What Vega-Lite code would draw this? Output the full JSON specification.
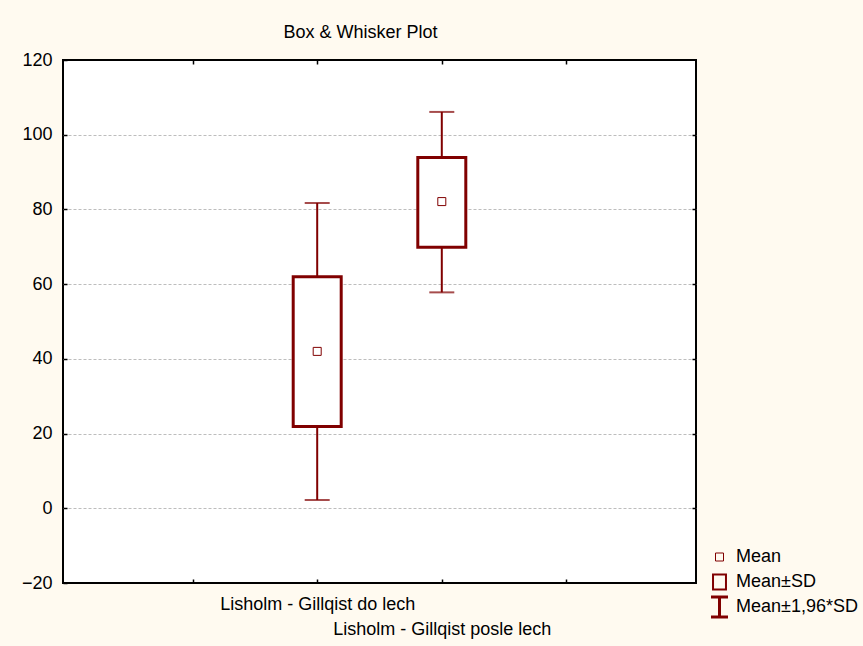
{
  "$schema": "https://vega.github.io/schema/vega-lite/v6.json",
  "autosize": {"type": "none"},
  "padding": {"left": 63, "top": 60, "right": 167, "bottom": 63},
  "width": 633,
  "height": 523,
  "background": "#FFFAF0",
  "title": {
    "text": "Box & Whisker Plot",
    "fontSize": 18,
    "font": "Liberation Sans",
    "fontWeight": "normal",
    "color": "#000000",
    "anchor": "middle",
    "dx": -19,
    "offset": 9
  },
  "config": {
    "view": {"fill": "#FFFFFF", "stroke": "#000000", "strokeWidth": 2},
    "font": "Liberation Sans",
    "axis": {
      "domain": false,
      "labelFont": "Liberation Sans",
      "labelFontSize": 18,
      "labelColor": "#000000",
      "labelLimit": 0,
      "tickColor": "#000000",
      "tickWidth": 1.5,
      "tickSize": -4,
      "title": null
    },
    "legend": {
      "labelFont": "Liberation Sans",
      "labelFontSize": 18,
      "labelColor": "#000000",
      "labelLimit": 0
    }
  },
  "data": {
    "values": [
      {"group": "Lisholm - Gillqist do lech", "pos": 2, "mean": 42.0, "lo": 21.9, "hi": 62.0, "wlo": 2.2, "whi": 81.7, "marker": "Mean"},
      {"group": "Lisholm - Gillqist posle lech", "pos": 3, "mean": 82.1, "lo": 69.9, "hi": 93.9, "wlo": 57.8, "whi": 106.1, "marker": "Mean"}
    ]
  },
  "resolve": {"axis": {"x": "independent", "y": "independent"}},
  "layer": [
    {
      "mark": {"type": "rule", "color": "#800000", "strokeWidth": 2},
      "encoding": {
        "x": {
          "field": "pos", "type": "quantitative",
          "scale": {"domain": [0, 5], "nice": false, "zero": false},
          "axis": {
            "orient": "bottom",
            "values": [1, 2, 3, 4],
            "labelExpr": "datum.value == 2 ? 'Lisholm - Gillqist do lech' : datum.value == 3 ? 'Lisholm - Gillqist posle lech' : ''",
            "labelPadding": {"condition": {"test": "datum.value == 3", "value": 41.5}, "value": 16.5},
            "labelOverlap": false,
            "grid": false
          }
        },
        "y": {
          "field": "wlo", "type": "quantitative",
          "scale": {"domain": [-20, 120], "nice": false, "zero": false},
          "axis": {
            "orient": "left",
            "values": [-20, 0, 20, 40, 60, 80, 100, 120],
            "format": "d",
            "labelPadding": 15,
            "grid": true,
            "gridColor": "#BDBDBD",
            "gridDash": [3, 2],
            "gridWidth": 1,
            "gridOpacity": {"condition": {"test": "datum.value < 0 || datum.value > 100", "value": 0}, "value": 1}
          }
        },
        "y2": {"field": "whi"}
      }
    },
    {
      "mark": {"type": "bar", "size": 48, "fill": "#FFFFFF", "stroke": "#800000", "strokeWidth": 3},
      "encoding": {
        "x": {
          "field": "pos", "type": "quantitative",
          "axis": {"orient": "top", "values": [1, 2, 3, 4], "labels": false, "grid": false}
        },
        "y": {
          "field": "lo", "type": "quantitative",
          "axis": {"orient": "right", "values": [0, 20, 40, 60, 80, 100], "labels": false, "grid": false}
        },
        "y2": {"field": "hi"}
      }
    },
    {
      "mark": {"type": "tick", "orient": "horizontal", "size": 25, "thickness": 2, "color": "#800000"},
      "encoding": {
        "x": {"field": "pos", "type": "quantitative", "axis": null},
        "y": {"field": "whi", "type": "quantitative", "axis": null}
      }
    },
    {
      "mark": {"type": "tick", "orient": "horizontal", "size": 25, "thickness": 2, "color": "#800000"},
      "encoding": {
        "x": {"field": "pos", "type": "quantitative", "axis": null},
        "y": {"field": "wlo", "type": "quantitative", "axis": null}
      }
    },
    {
      "mark": {"type": "point", "filled": false, "color": "#800000", "opacity": 1},
      "encoding": {
        "x": {"field": "pos", "type": "quantitative", "axis": null},
        "y": {"field": "mean", "type": "quantitative", "axis": null},
        "shape": {
          "field": "marker", "type": "nominal",
          "scale": {
            "domain": ["Mean", "Mean±SD", "Mean±1,96*SD"],
            "range": ["M-1,-1H1V1H-1Z", "M-0.85,-1H0.85V1H-0.85Z", "M-0.85,-1L0.85,-1M0,-1L0,1M-0.85,1L0.85,1"]
          },
          "legend": {
            "title": null,
            "orient": "none",
            "legendX": 645,
            "legendY": 485,
            "rowPadding": 1,
            "clipHeight": 24,
            "labelOffset": 5
          }
        },
        "size": {
          "field": "marker", "type": "nominal",
          "scale": {"domain": ["Mean", "Mean±SD", "Mean±1,96*SD"], "range": [64, 400, 420]},
          "legend": {
            "title": null,
            "orient": "none",
            "legendX": 645,
            "legendY": 485,
            "rowPadding": 1,
            "clipHeight": 24,
            "labelOffset": 5
          }
        },
        "strokeWidth": {
          "field": "marker", "type": "nominal",
          "scale": {"domain": ["Mean", "Mean±SD", "Mean±1,96*SD"], "range": [1, 3, 2]},
          "legend": {
            "title": null,
            "orient": "none",
            "legendX": 645,
            "legendY": 485,
            "rowPadding": 1,
            "clipHeight": 24,
            "labelOffset": 5
          }
        }
      }
    }
  ]
}
